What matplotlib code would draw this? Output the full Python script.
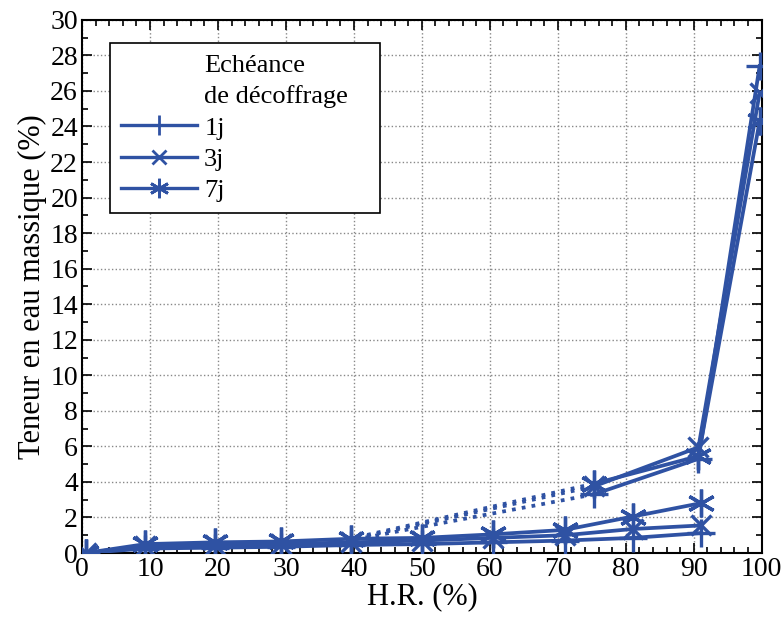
import matplotlib
matplotlib.use("Agg")
import matplotlib.pyplot as plt
from matplotlib.lines import Line2D
from matplotlib.ticker import MultipleLocator

plt.rcParams['font.family'] = ['Liberation Serif', 'DejaVu Serif']

# Adsorption branch
hr_ads = [0.5, 9.3, 19.5, 29.3, 39.5, 50.0, 60.5, 71.0, 81.0, 91.0]
ads_1j = [0.0, 0.25, 0.30, 0.35, 0.45, 0.50, 0.60, 0.70, 0.85, 1.12]
ads_3j = [0.0, 0.40, 0.45, 0.50, 0.60, 0.70, 0.85, 1.00, 1.35, 1.55]
ads_7j = [0.0, 0.50, 0.60, 0.65, 0.80, 0.85, 1.05, 1.30, 2.05, 2.80]

# Desorption branch (solid part)
hr_des = [99.7, 90.7, 75.3]
des_1j = [27.4, 5.30, 3.30]
des_3j = [25.9, 5.95, 3.75]
des_7j = [24.3, 5.45, 3.90]

# Desorption branch (dotted extrapolation)
hr_dot = [75.3, 40.0]
dot_1j = [3.30, 0.75]
dot_3j = [3.75, 0.80]
dot_7j = [3.90, 0.85]

labels = ['1j', '3j', '7j']
markers = ['+', 'x', (6, 2, 0)]
msizes = [20, 15, 20]
color = '#2f52a3'

fig = plt.figure(figsize=(7.82, 6.21), dpi=100)
ax = fig.add_axes([0.105, 0.1095, 0.869, 0.8585])

series = [(ads_1j, des_1j, dot_1j), (ads_3j, des_3j, dot_3j), (ads_7j, des_7j, dot_7j)]
for (a, d, dt), mk, ms in zip(series, markers, msizes):
    ax.plot(hr_ads, a, color=color, lw=2.7, marker=mk, ms=ms, mew=2.4, zorder=3)
    ax.plot(hr_des, d, color=color, lw=2.7, marker=mk, ms=ms, mew=2.4, zorder=3)
    ax.plot(hr_dot, dt, color=color, lw=2.7, ls=':', zorder=3)

ax.set_xlim(0, 100)
ax.set_ylim(0, 30)
ax.xaxis.set_major_locator(MultipleLocator(10))
ax.xaxis.set_minor_locator(MultipleLocator(2))
ax.yaxis.set_major_locator(MultipleLocator(2))
ax.yaxis.set_minor_locator(MultipleLocator(1))
ax.tick_params(which='both', direction='in', top=True, right=True, labelsize=20, width=1.2)
ax.tick_params(which='major', length=7, pad=3)
ax.tick_params(which='minor', length=4)
ax.grid(True, which='major', color='#888888', ls=':', lw=1.0)
for s in ax.spines.values():
    s.set_linewidth(1.5)
ax.set_xlabel('H.R. (%)', fontsize=22, labelpad=0)
ax.set_ylabel('Teneur en eau massique (%)', fontsize=22, labelpad=2)

blank = Line2D([], [], color='none')
handles = [blank, blank] + [Line2D([], [], color=color, lw=2.4, marker=m, ms=s * 0.7, mew=2.0)
                           for m, s in zip(markers, msizes)]
leg = ax.legend(handles, ['Echéance', 'de décoffrage'] + labels,
                loc='upper left', bbox_to_anchor=(0.041, 0.638, 0.397, 0.319),
                mode='expand', borderaxespad=0, fontsize=19,
                handlelength=2.9, handletextpad=0.27, labelspacing=0.30,
                borderpad=0.4, numpoints=1, fancybox=False, framealpha=1,
                edgecolor='black')
leg.get_frame().set_linewidth(1.2)
leg.set_zorder(5)

fig.savefig('out.png', dpi=100)
